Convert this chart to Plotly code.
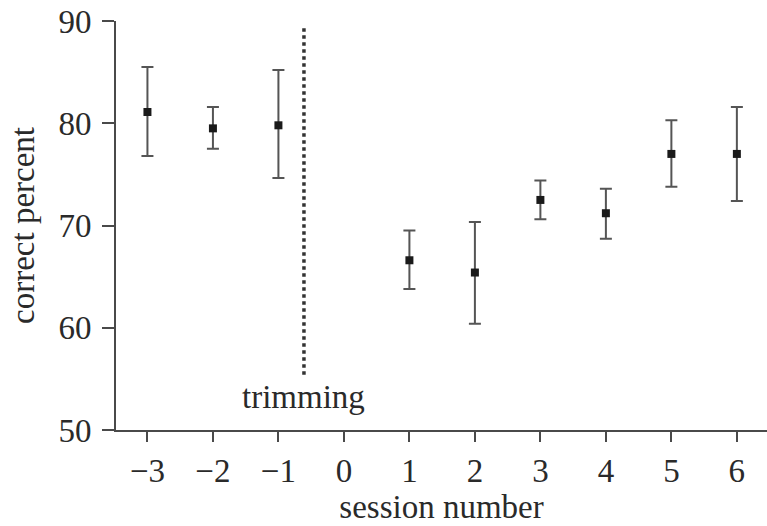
import plotly.graph_objects as go

# Session-wise accuracy (mean with asymmetric error bars)
sessions = [-3, -2, -1, 1, 2, 3, 4, 5, 6]
mean_pct = [81.1, 79.5, 79.8, 66.6, 65.4, 72.5, 71.2, 77.0, 77.0]
upper = [85.5, 81.6, 85.2, 69.5, 70.35, 74.4, 73.6, 80.3, 81.6]
lower = [76.8, 77.5, 74.65, 63.8, 60.4, 70.6, 68.7, 73.8, 72.4]

x_ticks = [-3, -2, -1, 0, 1, 2, 3, 4, 5, 6]
y_ticks = [50, 60, 70, 80, 90]

trim_x = -0.61
trim_y = [55.4, 89.3]

err_plus = [u - m for u, m in zip(upper, mean_pct)]
err_minus = [m - l for m, l in zip(mean_pct, lower)]

FONT = "Liberation Serif, Times New Roman, serif"
SIZE = 33
INK = "#2a2a2a"
AXIS = "#4a4a4a"

fig = go.Figure()

# trimming marker line
fig.add_trace(go.Scatter(
    x=[trim_x, trim_x], y=trim_y, mode="lines",
    line=dict(color="#333333", width=3.5, dash="dot"),
    hoverinfo="skip", showlegend=False,
))

fig.add_trace(go.Scatter(
    x=sessions, y=mean_pct, mode="markers",
    marker=dict(symbol="square", size=8, color="#1a1a1a"),
    error_y=dict(type="data", symmetric=False, array=err_plus,
                 arrayminus=err_minus, color="#555555",
                 thickness=2, width=6),
    showlegend=False,
))

fig.add_annotation(
    x=trim_x, y=53.2, text="trimming", showarrow=False,
    font=dict(family=FONT, size=SIZE, color=INK),
    xanchor="center", yanchor="middle",
)

fig.update_layout(
    width=767, height=526,
    margin=dict(l=116, r=0, t=21, b=96),
    paper_bgcolor="white", plot_bgcolor="white",
    font=dict(family=FONT, size=SIZE, color=INK),
    xaxis=dict(
        range=[-3.48, 6.46], tickvals=x_ticks,
        ticktext=[str(v).replace("-", "\u2212") for v in x_ticks],
        showgrid=False, zeroline=False,
        showline=True, linecolor=AXIS, linewidth=2,
        ticks="outside", ticklen=10, tickwidth=2, tickcolor=AXIS,
        title=dict(text="session number", standoff=7,
                   font=dict(family=FONT, size=SIZE, color=INK)),
    ),
    yaxis=dict(
        range=[50, 90], tickvals=y_ticks,
        showgrid=False, zeroline=False,
        showline=True, linecolor=AXIS, linewidth=2,
        ticks="outside", ticklen=12, tickwidth=2, tickcolor=AXIS,
        ticklabelstandoff=4,
        title=dict(text="correct percent", standoff=14,
                   font=dict(family=FONT, size=SIZE, color=INK)),
    ),
)

fig.write_html("out.html")
